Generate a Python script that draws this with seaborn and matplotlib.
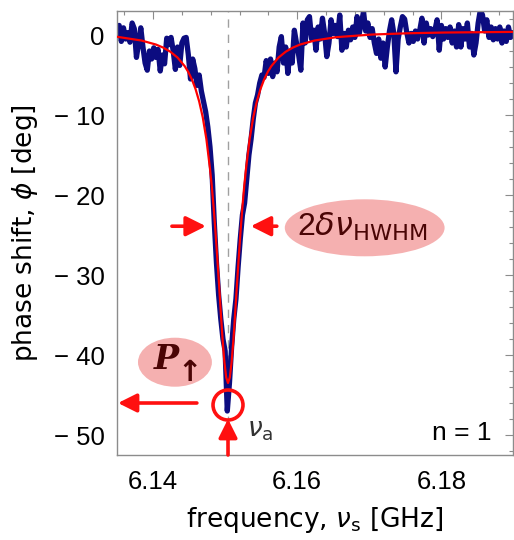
import numpy as np
import pandas as pd
import matplotlib
matplotlib.use("Agg")
import matplotlib.pyplot as plt
from matplotlib.patches import Ellipse
import seaborn as sns

# ---------------- data ----------------
freq_start = 6.1350
freq_step = 0.0003
phase_meas = [
    0.5, 1.2, -0.8, 0.9, -0.5, 0.3, -0.9, 1.5, 0.8, -2.8,
    -1.0, 0.9, -1.5, -3.5, -4.4, -2.0, -3.0, -1.6, -2.8, -1.8,
    -4.5, -2.5, -3.6, -0.4, -1.2, -0.3, -2.0, -4.3, -1.5, -3.8,
    -1.0, -0.4, -0.3, -2.5, -5.5, -3.0, -4.2, -6.3, -5.0, -7.0,
    -8.3, -9.6, -11.5, -14.0, -17.5, -23.5, -28.5, -32.5, -35.5, -38.0,
    -39.5, -47.0, -43.5, -39.0, -35.5, -33.0, -29.0, -25.5, -22.5, -21.0,
    -18.0, -15.0, -13.0, -10.5, -8.5, -7.5, -6.0, -5.0, -5.3, -3.2,
    -4.8, -3.0, -5.2, -3.5, -4.6, -1.5, -0.2, -3.5, -1.5, -4.8,
    -2.0, -3.5, 0.6, -1.0, -2.5, -4.4, 1.5, -1.0, 1.9, 2.3,
    -0.5, 0.6, -1.9, 1.0, -0.5, 2.1, 0.2, -2.7, -1.0, 1.9,
    0.2, 1.2, -0.2, 2.5, -1.9, 0.2, -1.5, 0.6, -0.6, 1.0,
    -0.3, 2.3, 0.2, 1.5, 2.9, 0.5, 1.5, -0.3, 0.8, -1.0,
    -2.3, -0.5, -2.9, -1.0, -4.0, -1.5, 0.5, 1.9, 0.2, -4.6,
    -0.5, 1.0, 2.3, 2.0, 0.3, -1.0, 0.2, -0.8, 0.5, -0.5,
    0.6, 2.1, -1.0, 1.5, 0.0, 0.8, -0.2, 0.6, 1.9, -1.9,
    1.2, -0.5, 0.8, -0.3, 1.0, -1.0, 0.5, -1.5, 1.3, -1.5,
    0.8, -0.5, 1.5, -1.5, 0.2, -2.5, -1.0, 1.5, 3.1, 2.5,
    0.5, 1.9, -0.3, 1.0, -0.6, 0.8, -0.5, 1.0, -1.0, 0.5,
    -0.8, 1.0, -0.3, 0.3,
]
freq_meas = [round(freq_start + freq_step * i, 4) for i in range(len(phase_meas))]

freq_fit = [6.1350, 6.1384, 6.1404, 6.1414, 6.1424, 6.1434, 6.1444, 6.1449, 6.1454,
            6.1459, 6.1464, 6.1469, 6.1474, 6.1479, 6.14815, 6.1484, 6.14865, 6.1489,
            6.14915, 6.1494, 6.14965, 6.1499, 6.15015, 6.1504, 6.15065, 6.1509,
            6.15115, 6.1514, 6.15165, 6.1519, 6.15215, 6.1524, 6.15265, 6.1529,
            6.1534, 6.1539, 6.1544, 6.1549, 6.1554, 6.1559, 6.1564, 6.1574, 6.1584,
            6.1594, 6.1604, 6.1624, 6.1654, 6.1704, 6.1754, 6.1804, 6.1900]
phase_fit = [-0.22, -0.69, -1.19, -1.57, -2.09, -2.82, -3.9, -4.64, -5.57,
             -6.76, -8.3, -10.3, -13.0, -16.7, -18.9, -21.5, -24.4, -27.7,
             -31.1, -34.7, -38.1, -40.9, -42.8, -43.5, -42.8, -40.9,
             -38.1, -34.7, -31.1, -27.7, -24.4, -21.5, -18.9, -16.7,
             -13.0, -10.3, -8.3, -6.76, -5.57, -4.64, -3.9, -2.82, -2.09,
             -1.57, -1.19, -0.69, -0.27, 0.06, 0.22, 0.31, 0.39]

x_ticks = [6.14, 6.16, 6.18]
x_ticklabels = ["6.14", "6.16", "6.18"]
y_ticks = [-50, -40, -30, -20, -10, 0]
y_ticklabels = ["\u2212 50", "\u2212 40", "\u2212 30", "\u2212 20", "\u2212 10", "0"]

nu_a = 6.1504

df_meas = pd.DataFrame({"freq": freq_meas, "phase": phase_meas})
df_fit = pd.DataFrame({"freq": freq_fit, "phase": phase_fit})

# ---------------- style ----------------
sns.set_style("white")
plt.rcParams["font.family"] = ["Liberation Sans", "DejaVu Sans"]
plt.rcParams["mathtext.fontset"] = "dejavusans"
plt.rcParams["text.color"] = "black"
plt.rcParams["axes.labelcolor"] = "black"
plt.rcParams["xtick.color"] = "black"
plt.rcParams["ytick.color"] = "black"

fig = plt.figure(figsize=(5.14, 5.40), dpi=100)
ax = fig.add_axes([0.2276, 0.1574, 0.7714, 0.8222])

ax.axvline(nu_a, color="#a0a0a0", lw=1.0, ls=(0, (6, 5)), zorder=1)

sns.lineplot(data=df_meas, x="freq", y="phase", ax=ax, color="#0c0c80",
             lw=3.8, estimator=None, sort=False, zorder=2)
sns.lineplot(data=df_fit, x="freq", y="phase", ax=ax, color="#ff0000",
             lw=1.6, estimator=None, sort=False, zorder=3)

ax.set_xlim(6.135, 6.19)
ax.set_ylim(-52.5, 3.0)

ax.set_xticks(x_ticks)
ax.set_xticklabels(x_ticklabels)
ax.set_yticks(y_ticks)
ax.set_yticklabels(y_ticklabels)
ax.set_xticks(np.arange(6.136, 6.19, 0.004), minor=True)
ax.set_yticks(np.arange(-52, 3, 2), minor=True)

for s in ax.spines.values():
    s.set_color("#8c8c8c")
    s.set_linewidth(1.0)
ax.tick_params(which="both", direction="in", top=True, right=True,
               color="#8c8c8c", width=0.8, labelcolor="black")
ax.tick_params(which="major", length=6)
ax.tick_params(which="minor", length=3)
ax.tick_params(axis="x", which="major", labelsize=18.5, pad=11)
ax.tick_params(axis="y", which="major", labelsize=18.5, pad=9)

ax.set_xlabel(r"frequency, $\nu_{\rm s}$ [GHz]", fontsize=19, labelpad=8,
              family="DejaVu Sans", color="black")
ax.set_ylabel(r"phase shift, $\phi$ [deg]", fontsize=19, labelpad=10,
              family="DejaVu Sans", color="black")

# ---------------- annotations ----------------
red = "#ff1010"
maroon = "#4a0505"

def arrow(x0, y0, x1, y1, ms):
    ax.annotate("", xy=(x1, y1), xytext=(x0, y0),
                arrowprops=dict(arrowstyle="-|>", color=red, lw=2.6,
                                mutation_scale=ms, shrinkA=0, shrinkB=0),
                zorder=6, annotation_clip=False)

arrow(6.14262, -23.9, 6.14733, -23.9, 30)
arrow(6.15717, -23.9, 6.15356, -23.9, 30)
arrow(6.14608, -46.0, 6.13514, -46.0, 28)
arrow(nu_a, -52.5, nu_a, -48.0, 28)

ax.add_patch(Ellipse((nu_a, -46.25), 30 / 7218, 30 / 8, fill=False,
                     edgecolor=red, lw=2.6, zorder=6))

ax.add_patch(Ellipse((6.16936, -24.1), 160 / 7218, 57 / 8,
                     facecolor="#f4a2a2", edgecolor="none", alpha=0.85, zorder=4))
ax.text(6.1690, -24.0, r"2$\delta\nu_{\rm HWHM}$", fontsize=23, color=maroon,
        ha="center", va="center", zorder=5)

ax.add_patch(Ellipse((6.14304, -40.9), 74 / 7218, 49 / 8,
                     facecolor="#f4a2a2", edgecolor="none", alpha=0.85, zorder=4))
ax.text(6.1418, -40.6, "P", fontsize=24, color=maroon, family="DejaVu Serif",
        fontweight="bold", style="italic", ha="center", va="center", zorder=5)
ax.text(6.1450, -42.3, "\u2191", fontsize=21, color=maroon, family="DejaVu Sans",
        fontweight="bold", ha="center", va="center", zorder=5)

ax.text(6.1530, -50.2, r"$\nu_{\rm a}$", fontsize=19, color="#333333",
        ha="left", va="baseline", zorder=5)
ax.text(6.1870, -50.6, "n = 1", fontsize=19, color="black",
        ha="right", va="baseline", zorder=5)

fig.savefig("out.png", dpi=100)
